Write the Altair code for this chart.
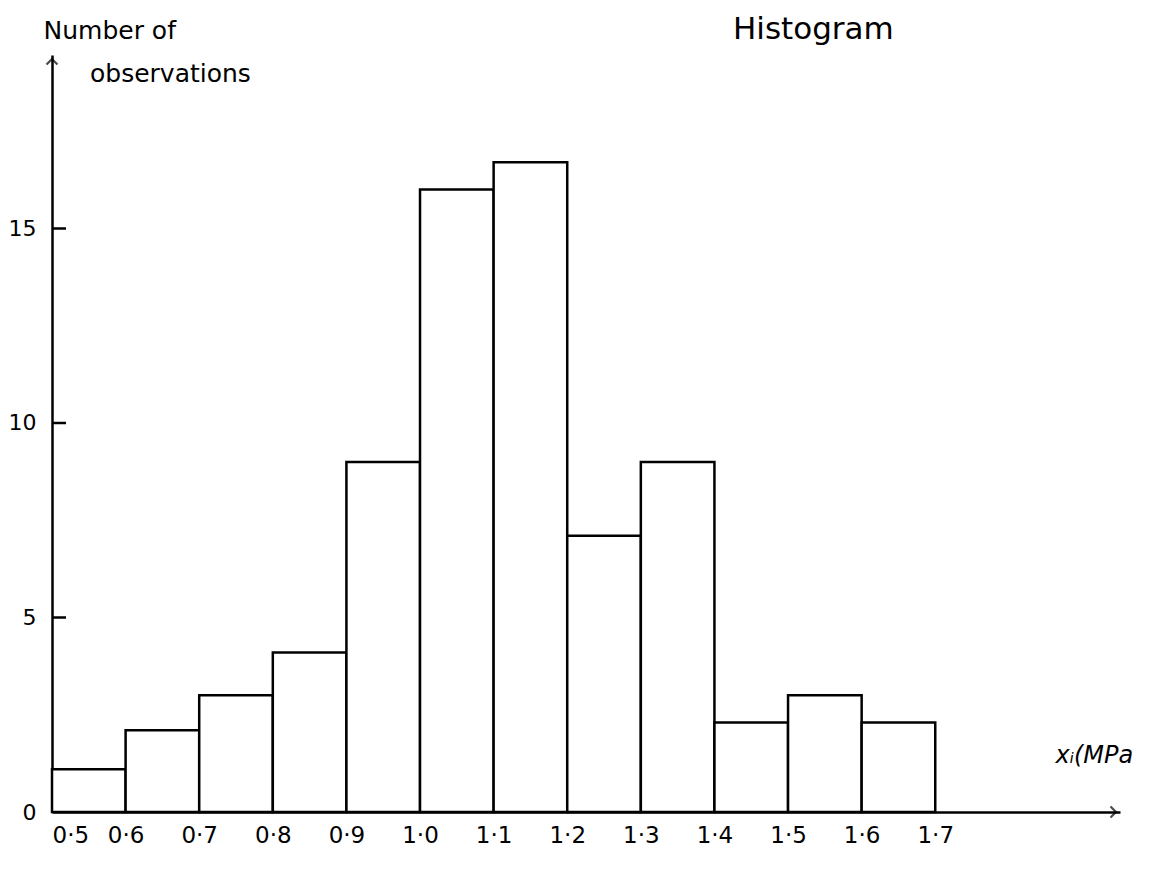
import altair as alt
import pandas as pd

# ---- data ----
bin_starts = [0.5, 0.6, 0.7, 0.8, 0.9, 1.0, 1.1, 1.2, 1.3, 1.4, 1.5, 1.6]
bin_ends = [0.6, 0.7, 0.8, 0.9, 1.0, 1.1, 1.2, 1.3, 1.4, 1.5, 1.6, 1.7]
counts = [1.1, 2.1, 3.0, 4.1, 9.0, 16.0, 16.7, 7.1, 9.0, 2.3, 3.0, 2.3]
x_ticks = [0.5, 0.6, 0.7, 0.8, 0.9, 1.0, 1.1, 1.2, 1.3, 1.4, 1.5, 1.6, 1.7]
y_ticks = [0, 5, 10, 15]
y_inner_ticks = [5, 10, 15]

FONT = "DejaVu Sans"
W, H = 1068, 757

bars_df = pd.DataFrame({"start": bin_starts, "end": bin_ends, "count": counts})
ticks_df = pd.DataFrame({"v": y_inner_ticks})
one_df = pd.DataFrame({"k": [0]})

x_scale = alt.Scale(domain=[0.5, 1.951], nice=False, zero=False)
y_scale = alt.Scale(domain=[0, 19.46], nice=False)

bars = alt.Chart(bars_df).mark_rect(
    fill="white", stroke="black", strokeWidth=2.5
).encode(
    x=alt.X(
        "start:Q",
        scale=x_scale,
        axis=alt.Axis(
            values=x_ticks,
            ticks=False,
            grid=False,
            labelExpr="replace(format(datum.value, '.1f'), '.', '·')",
            labelFontSize=23,
            labelPadding=12,
            labelBaseline="top",
            title="xᵢ(MPa",
            titleFontSize=24,
            titleFontStyle="italic",
            titleFontWeight="normal",
            titleAlign="left",
            titleBaseline="alphabetic",
            titleX=1003,
            titleY=-50,
            domainWidth=2.5,
            domainColor="black",
        ),
    ),
    x2="end:Q",
    y=alt.Y(
        "count:Q",
        scale=y_scale,
        axis=alt.Axis(
            values=y_ticks,
            ticks=False,
            grid=False,
            labelFontSize=22,
            labelPadding=16,
            title="Number of",
            titleFontSize=25,
            titleFontWeight="normal",
            titleAngle=0,
            titleAlign="left",
            titleBaseline="alphabetic",
            titleX=-9,
            titleY=-17,
            domainWidth=2.5,
            domainColor="black",
        ),
    ),
    y2=alt.datum(0),
)

inner_ticks = alt.Chart(ticks_df).mark_rule(color="black", strokeWidth=2.5).encode(
    x=alt.value(0),
    x2=alt.value(14),
    y=alt.Y("v:Q", scale=y_scale),
)

obs_text = alt.Chart(one_df).mark_text(
    text="observations", font=FONT, fontSize=25, align="left", baseline="alphabetic", color="black"
).encode(x=alt.value(38), y=alt.value(27))

title_text = alt.Chart(one_df).mark_text(
    text="Histogram", font=FONT, fontSize=31, align="left", baseline="alphabetic", color="black"
).encode(x=alt.value(681), y=alt.value(-16))

y_arrow = alt.Chart(one_df).mark_point(
    shape="M-1,1L0,0L1,1", filled=False, stroke="black", strokeWidth=2.2, size=120
).encode(x=alt.value(0), y=alt.value(4))

x_arrow = alt.Chart(one_df).mark_point(
    shape="M-1,-1L0,0L-1,1", filled=False, stroke="black", strokeWidth=2.2, size=120
).encode(x=alt.value(W - 4), y=alt.value(H))

chart = alt.layer(bars, inner_ticks, obs_text, title_text, y_arrow, x_arrow).properties(
    width=W,
    height=H,
    autosize=alt.AutoSizeParams(type="none"),
    padding={"left": 44, "top": 47, "right": 47, "bottom": 49},
).configure(
    font=FONT,
    background="white",
).configure_view(
    stroke=None
).configure_axis(
    labelFont=FONT,
    titleFont=FONT,
    labelColor="black",
    titleColor="black",
)

chart.save("out.html", embed_options={"renderer": "svg", "actions": False})
